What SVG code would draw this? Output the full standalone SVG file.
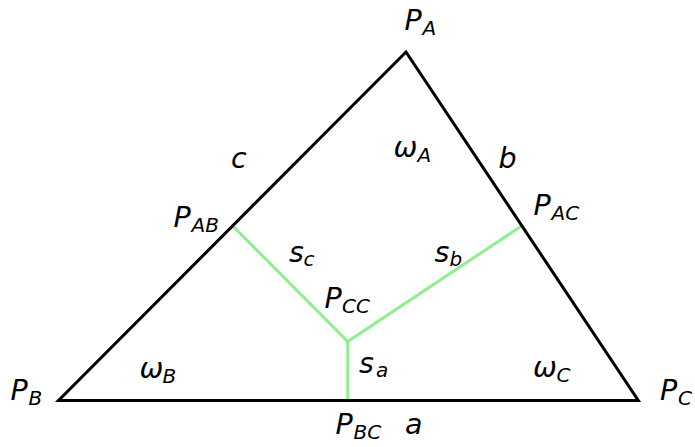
<svg xmlns="http://www.w3.org/2000/svg" width="695" height="447" viewBox="0 0 695 447">
<style>
text{font-family:"DejaVu Sans",sans-serif;font-style:oblique;font-size:28.5px;fill:#000}
tspan.s{font-size:20px}
.edge{stroke:#000;stroke-width:3;fill:none;stroke-linejoin:miter}
.sk{stroke:#90EE90;stroke-width:3;fill:none}
</style>
<rect width="695" height="447" fill="#fff"/>
<g id="connectors">
<polyline class="sk" points="232.5,225.8 347.7,341.5 521.8,225.8"/>
<line class="sk" x1="347.7" y1="341.5" x2="347.7" y2="400.5"/>
<polygon class="edge" points="406,52 58.5,400.5 638.3,400.5"/>
</g>
<g id="PA"><text x="404.5" y="30">P<tspan class="s" x="422.5" y="34.5">A</tspan></text></g>
<g id="PB"><text x="10.5" y="400">P<tspan class="s" x="28.5" y="405">B</tspan></text></g>
<g id="PC"><text x="660" y="400">P<tspan class="s" x="678" y="405">C</tspan></text></g>
<g id="PAB"><text x="173.5" y="226.5">P<tspan class="s" x="191.5" y="231.5">AB</tspan></text></g>
<g id="PAC"><text x="533.5" y="215">P<tspan class="s" x="551.5" y="220">AC</tspan></text></g>
<g id="PBC"><text x="335.5" y="434">P<tspan class="s" x="353.5" y="439">BC</tspan></text></g>
<g id="PCC"><text x="324.5" y="308">P<tspan class="s" x="342" y="312.5">CC</tspan></text></g>
<g id="labels">
<text x="393.5" y="157">ω<tspan class="s" x="417.5" y="162">A</tspan></text>
<text x="139.5" y="378">ω<tspan class="s" x="162.5" y="382.5">B</tspan></text>
<text x="533" y="377">ω<tspan class="s" x="556.5" y="381.5">C</tspan></text>
<text x="231" y="168">c</text>
<text x="498.5" y="168">b</text>
<text x="405" y="434">a</text>
<text x="289" y="262">s<tspan class="s" x="303.5" y="266">c</tspan></text>
<text x="434.5" y="262">s<tspan class="s" x="449.5" y="265.5">b</tspan></text>
<text x="359" y="372.5">s<tspan class="s" x="376" y="377">a</tspan></text>
</g>
</svg>
